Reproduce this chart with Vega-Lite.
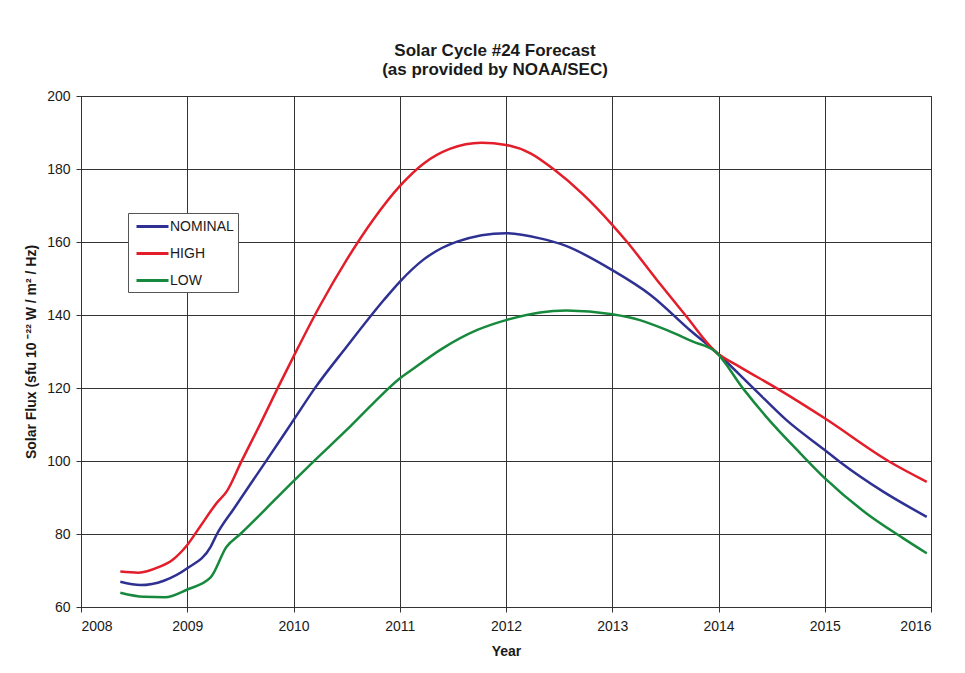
{
  "$schema": "https://vega.github.io/schema/vega-lite/v6.json",
  "width": 850,
  "height": 511,
  "autosize": {"type": "none"},
  "padding": {"left": 81, "top": 96, "right": 34, "bottom": 66},
  "background": "white",
  "title": {
    "text": ["Solar Cycle #24 Forecast", "(as provided by NOAA/SEC)"],
    "font": "Liberation Sans",
    "fontSize": 17,
    "fontWeight": "bold",
    "color": "#1a1a1a",
    "anchor": "middle",
    "dx": -11,
    "offset": 10,
    "lineHeight": 19
  },
  "data": {
    "values": [
      {"series": "NOMINAL", "year": 2008.37, "flux": 66.9},
      {"series": "NOMINAL", "year": 2008.56, "flux": 66.0},
      {"series": "NOMINAL", "year": 2008.78, "flux": 67.2},
      {"series": "NOMINAL", "year": 2009.0, "flux": 70.6},
      {"series": "NOMINAL", "year": 2009.22, "flux": 76.5},
      {"series": "NOMINAL", "year": 2009.28, "flux": 80.0},
      {"series": "NOMINAL", "year": 2009.44, "flux": 87.0},
      {"series": "NOMINAL", "year": 2009.74, "flux": 99.9},
      {"series": "NOMINAL", "year": 2010.0, "flux": 111.2},
      {"series": "NOMINAL", "year": 2010.2, "flux": 119.9},
      {"series": "NOMINAL", "year": 2010.5, "flux": 131.3},
      {"series": "NOMINAL", "year": 2010.85, "flux": 144.1},
      {"series": "NOMINAL", "year": 2011.0, "flux": 149.1},
      {"series": "NOMINAL", "year": 2011.22, "flux": 155.1},
      {"series": "NOMINAL", "year": 2011.54, "flux": 160.1},
      {"series": "NOMINAL", "year": 2012.0, "flux": 162.4},
      {"series": "NOMINAL", "year": 2012.32, "flux": 161.0},
      {"series": "NOMINAL", "year": 2012.54, "flux": 159.2},
      {"series": "NOMINAL", "year": 2013.0, "flux": 152.3},
      {"series": "NOMINAL", "year": 2013.36, "flux": 145.5},
      {"series": "NOMINAL", "year": 2013.73, "flux": 135.9},
      {"series": "NOMINAL", "year": 2013.97, "flux": 130.0},
      {"series": "NOMINAL", "year": 2014.33, "flux": 119.9},
      {"series": "NOMINAL", "year": 2014.64, "flux": 111.2},
      {"series": "NOMINAL", "year": 2015.0, "flux": 103.0},
      {"series": "NOMINAL", "year": 2015.14, "flux": 99.8},
      {"series": "NOMINAL", "year": 2015.55, "flux": 91.6},
      {"series": "NOMINAL", "year": 2015.96, "flux": 84.7},
      {"series": "HIGH", "year": 2008.37, "flux": 69.7},
      {"series": "HIGH", "year": 2008.54, "flux": 69.4},
      {"series": "HIGH", "year": 2008.73, "flux": 70.9},
      {"series": "HIGH", "year": 2008.86, "flux": 72.9},
      {"series": "HIGH", "year": 2009.0, "flux": 77.0},
      {"series": "HIGH", "year": 2009.12, "flux": 82.0},
      {"series": "HIGH", "year": 2009.28, "flux": 88.6},
      {"series": "HIGH", "year": 2009.37, "flux": 91.6},
      {"series": "HIGH", "year": 2009.51, "flux": 99.9},
      {"series": "HIGH", "year": 2009.69, "flux": 110.3},
      {"series": "HIGH", "year": 2009.85, "flux": 119.9},
      {"series": "HIGH", "year": 2010.0, "flux": 128.6},
      {"series": "HIGH", "year": 2010.25, "flux": 142.6},
      {"series": "HIGH", "year": 2010.5, "flux": 155.1},
      {"series": "HIGH", "year": 2010.75, "flux": 166.1},
      {"series": "HIGH", "year": 2011.0, "flux": 175.3},
      {"series": "HIGH", "year": 2011.22, "flux": 181.4},
      {"series": "HIGH", "year": 2011.47, "flux": 185.5},
      {"series": "HIGH", "year": 2011.77, "flux": 187.2},
      {"series": "HIGH", "year": 2012.0, "flux": 186.6},
      {"series": "HIGH", "year": 2012.23, "flux": 184.3},
      {"series": "HIGH", "year": 2012.45, "flux": 179.9},
      {"series": "HIGH", "year": 2012.73, "flux": 172.9},
      {"series": "HIGH", "year": 2013.0, "flux": 164.7},
      {"series": "HIGH", "year": 2013.14, "flux": 160.0},
      {"series": "HIGH", "year": 2013.42, "flux": 149.6},
      {"series": "HIGH", "year": 2013.7, "flux": 139.5},
      {"series": "HIGH", "year": 2013.97, "flux": 130.0},
      {"series": "HIGH", "year": 2014.2, "flux": 125.8},
      {"series": "HIGH", "year": 2014.55, "flux": 119.9},
      {"series": "HIGH", "year": 2015.0, "flux": 111.7},
      {"series": "HIGH", "year": 2015.61, "flux": 99.8},
      {"series": "HIGH", "year": 2015.96, "flux": 94.3},
      {"series": "LOW", "year": 2008.37, "flux": 63.9},
      {"series": "LOW", "year": 2008.59, "flux": 62.8},
      {"series": "LOW", "year": 2008.79, "flux": 62.7},
      {"series": "LOW", "year": 2009.0, "flux": 64.8},
      {"series": "LOW", "year": 2009.22, "flux": 68.1},
      {"series": "LOW", "year": 2009.37, "flux": 76.5},
      {"series": "LOW", "year": 2009.5, "flux": 80.0},
      {"series": "LOW", "year": 2010.0, "flux": 94.5},
      {"series": "LOW", "year": 2010.19, "flux": 99.9},
      {"series": "LOW", "year": 2010.5, "flux": 108.5},
      {"series": "LOW", "year": 2010.75, "flux": 115.8},
      {"series": "LOW", "year": 2011.0, "flux": 122.6},
      {"series": "LOW", "year": 2011.1, "flux": 124.7},
      {"series": "LOW", "year": 2011.4, "flux": 130.8},
      {"series": "LOW", "year": 2011.73, "flux": 135.9},
      {"series": "LOW", "year": 2012.0, "flux": 138.6},
      {"series": "LOW", "year": 2012.32, "flux": 140.7},
      {"series": "LOW", "year": 2012.57, "flux": 141.2},
      {"series": "LOW", "year": 2013.0, "flux": 140.2},
      {"series": "LOW", "year": 2013.26, "flux": 138.6},
      {"series": "LOW", "year": 2013.51, "flux": 135.9},
      {"series": "LOW", "year": 2013.76, "flux": 132.7},
      {"series": "LOW", "year": 2013.97, "flux": 130.0},
      {"series": "LOW", "year": 2014.23, "flux": 119.9},
      {"series": "LOW", "year": 2014.45, "flux": 112.1},
      {"series": "LOW", "year": 2014.77, "flux": 102.1},
      {"series": "LOW", "year": 2015.0, "flux": 95.3},
      {"series": "LOW", "year": 2015.39, "flux": 85.7},
      {"series": "LOW", "year": 2015.74, "flux": 78.8},
      {"series": "LOW", "year": 2015.96, "flux": 74.7}
    ]
  },
  "mark": {"type": "line", "strokeWidth": 2.5, "interpolate": "monotone"},
  "encoding": {
    "x": {
      "field": "year",
      "type": "quantitative",
      "scale": {"domain": [2008, 2016], "nice": false, "zero": false},
      "axis": {
        "title": "Year",
        "values": [2008, 2009, 2010, 2011, 2012, 2013, 2014, 2015, 2016],
        "format": "d",
        "labelPadding": 7,
        "titlePadding": 11
      }
    },
    "y": {
      "field": "flux",
      "type": "quantitative",
      "scale": {"domain": [60, 200], "nice": false, "zero": false},
      "axis": {
        "title": "Solar Flux (sfu 10 ⁻²² W / m² / Hz)",
        "values": [60, 80, 100, 120, 140, 160, 180, 200],
        "labelPadding": 6,
        "titlePadding": 8
      }
    },
    "color": {
      "field": "series",
      "type": "nominal",
      "sort": ["NOMINAL", "HIGH", "LOW"],
      "scale": {"domain": ["NOMINAL", "HIGH", "LOW"], "range": ["#2E3192", "#E31E2A", "#17893D"]},
      "legend": {
        "title": null,
        "orient": "none",
        "legendX": 47,
        "legendY": 117,
        "symbolType": "M-2,0H2",
        "symbolStrokeWidth": 3,
        "symbolSize": 256,
        "symbolOffset": 11,
        "labelFontSize": 14,
        "labelFont": "Liberation Sans",
        "labelColor": "#1a1a1a",
        "labelOffset": 8,
        "strokeColor": "#555",
        "fillColor": "white",
        "padding": 4,
        "rowPadding": 10
      }
    }
  },
  "config": {
    "view": {"stroke": "#333", "strokeWidth": 1},
    "axis": {
      "grid": true,
      "gridColor": "#333",
      "gridWidth": 1,
      "gridOpacity": 1,
      "domainColor": "#333",
      "tickColor": "#333",
      "tickSize": 5,
      "labelFont": "Liberation Sans",
      "labelFontSize": 14,
      "labelColor": "#1a1a1a",
      "titleFont": "Liberation Sans",
      "titleFontSize": 14,
      "titleFontWeight": "bold",
      "titleColor": "#1a1a1a"
    }
  }
}
